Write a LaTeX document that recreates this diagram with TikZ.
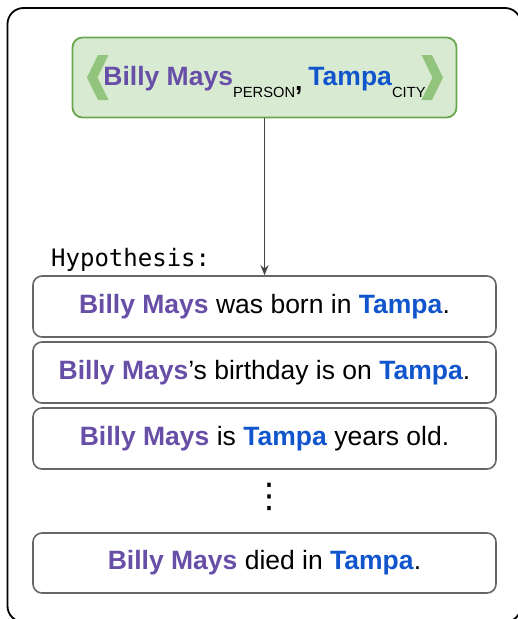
\documentclass[tikz,border=0pt]{standalone}
\usepackage{fontspec}
\setmainfont{Liberation Sans}
\setmonofont{DejaVu Sans Mono}
\newfontfamily\symfont{DejaVu Sans}
\usetikzlibrary{arrows.meta}

\definecolor{entpurple}{HTML}{674EA7}
\definecolor{entblue}{HTML}{1155CC}
\definecolor{tuplefill}{HTML}{D9EAD3}
\definecolor{tupleedge}{HTML}{6AA84F}
\definecolor{chevron}{HTML}{93C47D}
\definecolor{boxedge}{HTML}{666666}
\definecolor{arrowgray}{HTML}{434343}

\newcommand{\subj}{\textcolor{entpurple}{\textbf{Billy Mays}}}
\newcommand{\obj}{\textcolor{entblue}{\textbf{Tampa}}}
\newcommand{\enttag}[1]{\raisebox{-12pt}{\fontsize{14.7}{16}\selectfont #1}}

\tikzset{
  tuplebox/.style={draw=tupleedge, fill=tuplefill, line width=1.8pt,
    rounded corners=10pt, minimum width=384pt, minimum height=80pt,
    inner sep=0pt, text height=20pt, text depth=5pt,
    font=\fontsize{26.5}{30}\selectfont},
  hypbox/.style={draw=boxedge, line width=1.6pt, rounded corners=9pt,
    minimum width=463pt, inner sep=0pt, text height=19pt, text depth=6pt,
    font=\fontsize{26.5}{30}\selectfont},
  chev/.style={fill=chevron, draw=none},
  flow/.style={draw=arrowgray, line width=1.3pt,
    -{Stealth[length=10pt,width=8pt]}},
}

\begin{document}
\begin{tikzpicture}[x=1pt, y=-1pt]
  \useasboundingbox (0,0) rectangle (518,619);

  % outer frame
  \draw[line width=1.8pt, rounded corners=16pt] (7.5,8) rectangle (521,622);

  % entity tuple
  \node[tuplebox] (src) at (264.5,77.5)
    {\subj\enttag{PERSON}\raisebox{-5pt}{\textbf{,}}\hspace{6pt}\obj\enttag{CITY}};
  \fill[chev] (98,55) -- (108.5,55) -- (97.5,77.5) -- (108.5,100)
    -- (98,100) -- (87,77.5) -- cycle;
  \fill[chev] (432,55) -- (421.5,55) -- (432.5,77.5) -- (421.5,100)
    -- (432,100) -- (443,77.5) -- cycle;

  % label
  \node[anchor=base west, inner sep=0pt,
        font=\ttfamily\fontsize{24}{28}\selectfont] (hyp) at (51,266)
    {Hypothesis:};

  % hypotheses
  \node[hypbox, minimum height=61pt] (h1) at (264.5,306.5)
    {\subj{} was born in \obj.};
  \node[hypbox, minimum height=61pt] (h2) at (264.5,372.5)
    {\subj’s birthday is on \obj.};
  \node[hypbox, minimum height=61pt] (h3) at (264.5,438.5)
    {\subj{} is \obj{} years old.};
  \node[inner sep=0pt, font=\symfont\fontsize{34}{36}\selectfont]
    (dots) at (269,496.5) {⋮};
  \node[hypbox, minimum height=60pt] (h4) at (264.5,563)
    {\subj{} died in \obj.};

  % arrow from tuple to hypotheses
  \draw[flow] (src.south) -- (h1.north);
\end{tikzpicture}
\end{document}
